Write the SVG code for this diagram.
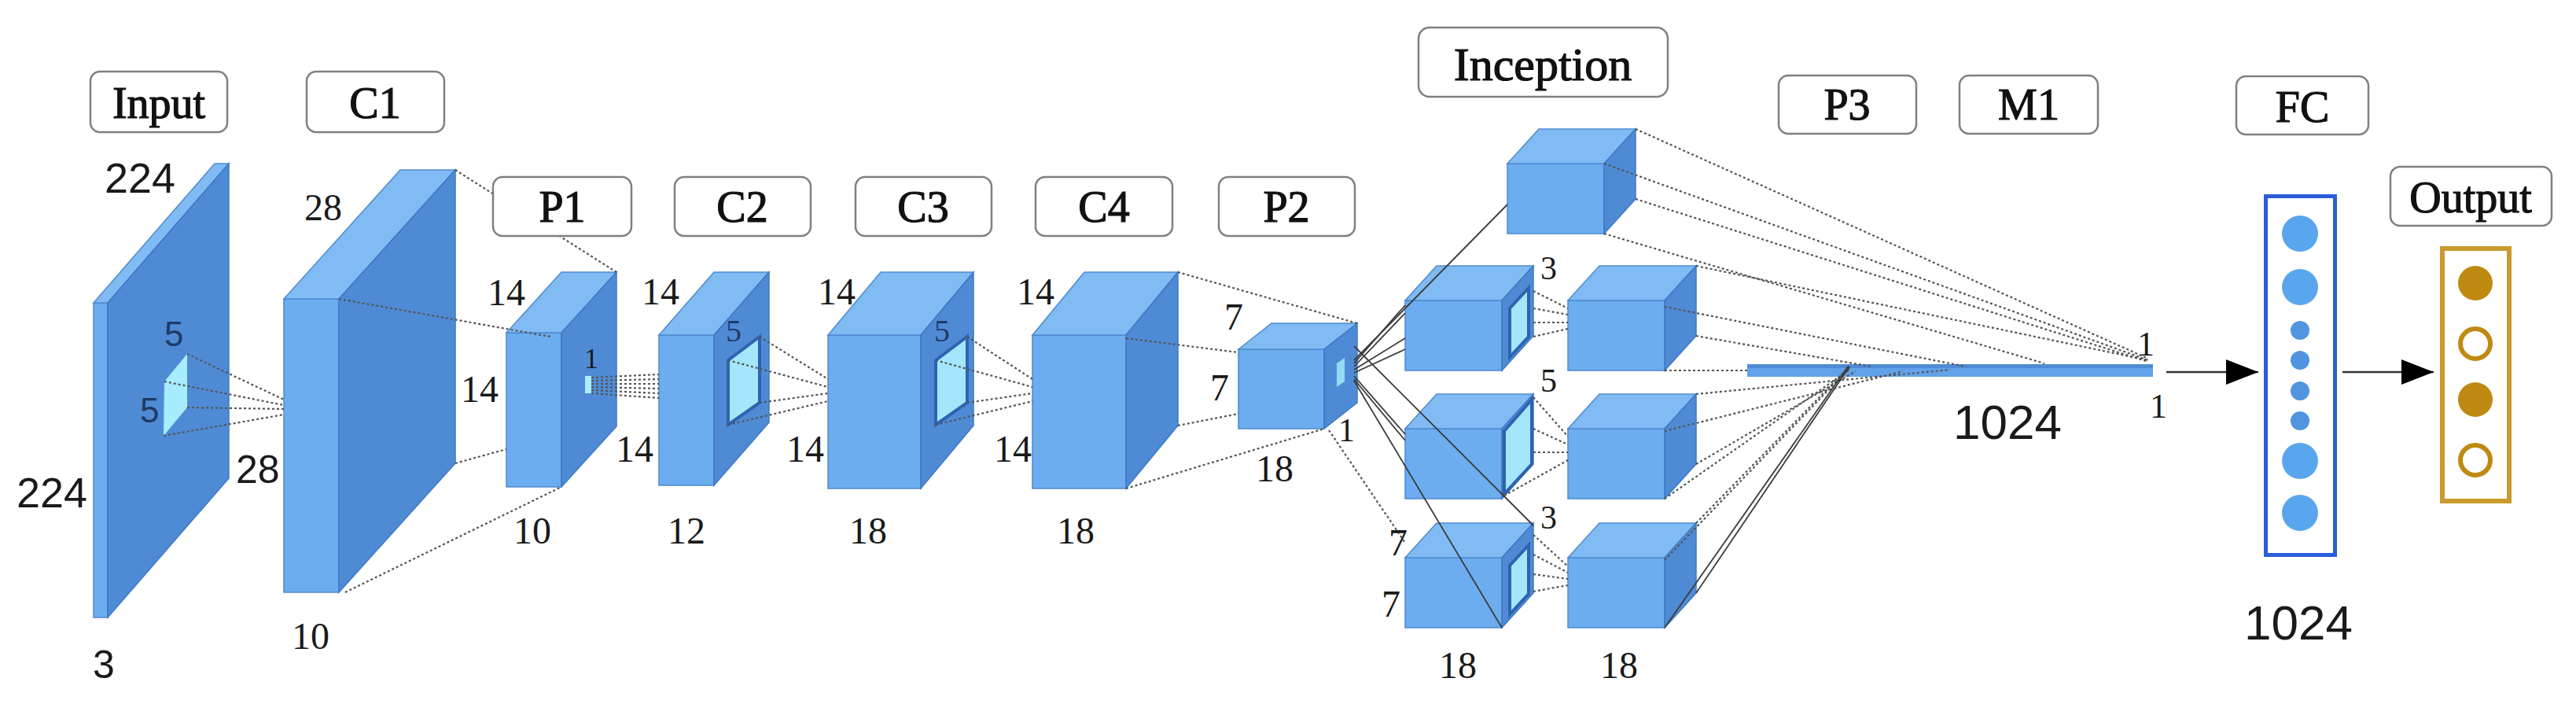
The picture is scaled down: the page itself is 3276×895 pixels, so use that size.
<svg xmlns="http://www.w3.org/2000/svg" width="3276" height="895" viewBox="0 0 3276 895">
<defs>
<style>
.lb{fill:#fff;stroke:#808080;stroke-width:2.5}
.lt{font-family:"Liberation Serif",serif;font-size:56px;fill:#111;stroke:#111;stroke-width:1.2;text-anchor:middle}
.fr{fill:#6cadf0;stroke:#4f8ad0;stroke-width:1.5}
.tp{fill:#80bbf4;stroke:#4f8ad0;stroke-width:1.5}
.sd{fill:#4f8bd5;stroke:#3f78c2;stroke-width:1.5}
.win{fill:#a4e6fc;stroke:#2f63b0;stroke-width:4}
.nm{font-family:"Liberation Serif",serif;font-size:48px;fill:#1a1a1a}
.ns{font-family:"Liberation Sans",sans-serif;font-size:54px;fill:#1a1a1a}
.nb{font-family:"Liberation Sans",sans-serif;font-size:44px;fill:#1f3a66}
.d{stroke:#555;stroke-width:2.2;stroke-dasharray:3 3;fill:none}
.s{stroke:#3c3c3c;stroke-width:1.8;fill:none}
.ar{stroke:#333;stroke-width:2.5;fill:none}
</style>
<marker id="ah" markerUnits="userSpaceOnUse" markerWidth="42" markerHeight="34" refX="41" refY="16" orient="auto">
<path d="M0,0 L41,16 L0,32 z" fill="#000"/>
</marker>
</defs>
<rect width="3276" height="895" fill="#fff"/>

<g id="input">
<rect class="fr" x="119" y="385" width="18" height="400"/>
<polygon class="tp" points="119,385 273,208 291,208 137,385"/>
<polygon class="sd" points="137,385 291,208 291,608 137,785"/>
<polygon points="209,485 238,450 238,518 208,554" fill="#a8ecff"/>
</g>
<g id="c1">
<rect class="fr" x="361" y="380" width="70" height="373"/>
<polygon class="tp" points="361,380 509,216 579,216 431,380"/>
<polygon class="sd" points="431,380 579,216 579,589 431,753"/>
</g>
<g id="p1">
<rect class="fr" x="644" y="423" width="70" height="196"/>
<polygon class="tp" points="644,423 714,346 784,346 714,423"/>
<polygon class="sd" points="714,423 784,346 784,542 714,619"/>
<rect x="744" y="478" width="8" height="22" fill="#a8ecff"/>
</g>
<g id="c2">
<rect class="fr" x="838" y="426" width="70" height="191"/>
<polygon class="tp" points="838,426 908,346 978,346 908,426"/>
<polygon class="sd" points="908,426 978,346 978,537 908,617"/>
<polygon class="win" points="926,458 966,428 966,512 926,540"/>
</g>
<g id="c3">
<rect class="fr" x="1053" y="426" width="118" height="195"/>
<polygon class="tp" points="1053,426 1120,346 1238,346 1171,426"/>
<polygon class="sd" points="1171,426 1238,346 1238,541 1171,621"/>
<polygon class="win" points="1190,458 1230,428 1230,512 1190,540"/>
</g>
<g id="c4">
<rect class="fr" x="1313" y="426" width="119" height="195"/>
<polygon class="tp" points="1313,426 1379,346 1498,346 1432,426"/>
<polygon class="sd" points="1432,426 1498,346 1498,541 1432,621"/>
</g>
<g id="p2">
<rect class="fr" x="1575" y="444" width="109" height="101"/>
<polygon class="tp" points="1575,444 1617,411 1726,411 1684,444"/>
<polygon class="sd" points="1684,444 1726,411 1726,512 1684,545"/>
<polygon points="1700,462 1710,455 1710,485 1700,492" fill="#a8ecff" opacity="0.8"/>
</g>
<g id="inception">
<rect class="fr" x="1917" y="208" width="123" height="89"/>
<polygon class="tp" points="1917,208 1957,164 2080,164 2040,208"/>
<polygon class="sd" points="2040,208 2080,164 2080,253 2040,297"/>

<rect class="fr" x="1787" y="382" width="123" height="89"/>
<polygon class="tp" points="1787,382 1827,338 1950,338 1910,382"/>
<polygon class="sd" points="1910,382 1950,338 1950,427 1910,471"/>
<polygon class="win" points="1920,392 1944,366 1944,428 1920,454"/>

<rect class="fr" x="1994" y="382" width="123" height="89"/>
<polygon class="tp" points="1994,382 2034,338 2157,338 2117,382"/>
<polygon class="sd" points="2117,382 2157,338 2157,427 2117,471"/>

<rect class="fr" x="1787" y="545" width="123" height="89"/>
<polygon class="tp" points="1787,545 1827,501 1950,501 1910,545"/>
<polygon class="sd" points="1910,545 1950,501 1950,590 1910,634"/>
<polygon class="win" points="1913,548 1948,508 1948,590 1913,628"/>

<rect class="fr" x="1994" y="545" width="123" height="89"/>
<polygon class="tp" points="1994,545 2034,501 2157,501 2117,545"/>
<polygon class="sd" points="2117,545 2157,501 2157,590 2117,634"/>

<rect class="fr" x="1787" y="709" width="123" height="89"/>
<polygon class="tp" points="1787,709 1827,665 1950,665 1910,709"/>
<polygon class="sd" points="1910,709 1950,665 1950,754 1910,798"/>
<polygon class="win" points="1920,719 1944,693 1944,755 1920,781"/>

<rect class="fr" x="1994" y="709" width="123" height="89"/>
<polygon class="tp" points="1994,709 2034,665 2157,665 2117,709"/>
<polygon class="sd" points="2117,709 2157,665 2157,754 2117,798"/>
</g>
<g id="p3m1">
<rect x="2222" y="463" width="516" height="16" fill="#62a2ea"/>
<rect x="2222" y="463" width="516" height="5" fill="#4e8ad6"/>
</g>
<g id="fc">
<rect x="2881.5" y="249.5" width="88" height="456" fill="#fff" stroke="#2a5ed8" stroke-width="5"/>
<g fill="#5aa6ee">
<circle cx="2925" cy="297" r="23"/>
<circle cx="2925" cy="365" r="23"/>
<circle cx="2925" cy="420" r="12" fill="#5194e0"/>
<circle cx="2925" cy="458" r="12" fill="#5194e0"/>
<circle cx="2925" cy="497" r="12" fill="#5194e0"/>
<circle cx="2925" cy="535" r="12" fill="#5194e0"/>
<circle cx="2925" cy="586" r="23"/>
<circle cx="2925" cy="652" r="23"/>
</g>
</g>
<g id="output">
<rect x="3106" y="316" width="85" height="321" fill="#fff" stroke="#c99a2c" stroke-width="6"/>
<circle cx="3148" cy="360" r="22" fill="#bf8a12"/>
<circle cx="3148" cy="437" r="19" fill="#fff" stroke="#bf8a12" stroke-width="6"/>
<circle cx="3148" cy="508" r="22" fill="#bf8a12"/>
<circle cx="3148" cy="585" r="19" fill="#fff" stroke="#bf8a12" stroke-width="6"/>
</g>

<g id="connectors">
<line class="d" x1="238" y1="450" x2="361" y2="508"/>
<line class="d" x1="209" y1="485" x2="361" y2="515"/>
<line class="d" x1="238" y1="518" x2="361" y2="520"/>
<line class="d" x1="208" y1="554" x2="361" y2="527"/>
<line class="d" x1="579" y1="216" x2="784" y2="346"/>
<line class="d" x1="431" y1="380" x2="700" y2="428"/>
<line class="d" x1="579" y1="589" x2="644" y2="571"/>
<line class="d" x1="439" y1="753" x2="714" y2="619"/>
<line class="d" x1="752" y1="480" x2="838" y2="476"/>
<line class="d" x1="752" y1="484" x2="838" y2="482"/>
<line class="d" x1="752" y1="488" x2="838" y2="488"/>
<line class="d" x1="752" y1="492" x2="838" y2="494"/>
<line class="d" x1="752" y1="496" x2="838" y2="500"/>
<line class="d" x1="752" y1="500" x2="838" y2="506"/>
<line class="d" x1="966" y1="428" x2="1053" y2="482"/>
<line class="d" x1="926" y1="458" x2="1053" y2="492"/>
<line class="d" x1="966" y1="512" x2="1053" y2="500"/>
<line class="d" x1="926" y1="540" x2="1053" y2="510"/>
<line class="d" x1="1230" y1="428" x2="1313" y2="482"/>
<line class="d" x1="1190" y1="458" x2="1313" y2="492"/>
<line class="d" x1="1230" y1="512" x2="1313" y2="500"/>
<line class="d" x1="1190" y1="540" x2="1313" y2="510"/>
<line class="d" x1="1498" y1="346" x2="1726" y2="411"/>
<line class="d" x1="1432" y1="430" x2="1575" y2="448"/>
<line class="d" x1="1498" y1="541" x2="1575" y2="526"/>
<line class="d" x1="1432" y1="621" x2="1684" y2="545"/>
<line class="s" x1="1722" y1="458" x2="1917" y2="260"/>
<line class="s" x1="1722" y1="462" x2="1787" y2="388"/>
<line class="s" x1="1722" y1="466" x2="1787" y2="398"/>
<line class="s" x1="1722" y1="470" x2="1787" y2="430"/>
<line class="s" x1="1722" y1="474" x2="1787" y2="444"/>
<line class="s" x1="1722" y1="478" x2="1787" y2="552"/>
<line class="s" x1="1722" y1="482" x2="1787" y2="560"/>
<line class="s" x1="1722" y1="484" x2="1910" y2="798"/>
<line class="s" x1="1722" y1="440" x2="1950" y2="668"/>
<line class="d" x1="1690" y1="547" x2="1787" y2="690"/>
<line class="d" x1="1950" y1="370" x2="1994" y2="392"/>
<line class="d" x1="1950" y1="392" x2="1994" y2="400"/>
<line class="d" x1="1950" y1="410" x2="1994" y2="410"/>
<line class="d" x1="1950" y1="428" x2="1994" y2="418"/>
<line class="d" x1="1950" y1="505" x2="1994" y2="555"/>
<line class="d" x1="1950" y1="545" x2="1994" y2="565"/>
<line class="d" x1="1950" y1="575" x2="1994" y2="575"/>
<line class="d" x1="1913" y1="630" x2="1994" y2="585"/>
<line class="d" x1="1950" y1="680" x2="1994" y2="720"/>
<line class="d" x1="1950" y1="705" x2="1994" y2="728"/>
<line class="d" x1="1950" y1="730" x2="1994" y2="736"/>
<line class="d" x1="1950" y1="752" x2="1994" y2="744"/>
<line class="d" x1="2080" y1="164" x2="2732" y2="456"/>
<line class="d" x1="2040" y1="208" x2="2732" y2="458"/>
<line class="d" x1="2080" y1="253" x2="2732" y2="460"/>
<line class="d" x1="2040" y1="297" x2="2600" y2="462"/>
<line class="d" x1="2157" y1="338" x2="2732" y2="458"/>
<line class="d" x1="2117" y1="390" x2="2500" y2="466"/>
<line class="d" x1="2157" y1="427" x2="2380" y2="466"/>
<line class="d" x1="2117" y1="471" x2="2222" y2="471"/>
<line class="d" x1="2157" y1="501" x2="2480" y2="470"/>
<line class="d" x1="2117" y1="548" x2="2420" y2="472"/>
<line class="d" x1="2157" y1="590" x2="2360" y2="472"/>
<line class="d" x1="2117" y1="634" x2="2352" y2="470"/>
<line class="d" x1="2157" y1="665" x2="2352" y2="466"/>
<line class="d" x1="2117" y1="712" x2="2352" y2="468"/>
<line class="s" x1="2157" y1="754" x2="2352" y2="466"/>
<line class="s" x1="2117" y1="798" x2="2350" y2="466"/>
<line class="ar" x1="2755" y1="473" x2="2872" y2="473" marker-end="url(#ah)"/>
<line class="ar" x1="2979" y1="473" x2="3095" y2="473" marker-end="url(#ah)"/>
</g>

<g id="labels">
<rect class="lb" x="115" y="91" width="174" height="77" rx="12"/>
<text class="lt" x="202" y="150">Input</text>
<rect class="lb" x="390" y="91" width="175" height="77" rx="12"/>
<text class="lt" x="477" y="150">C1</text>
<rect class="lb" x="627" y="225" width="176" height="75" rx="12"/>
<text class="lt" x="715" y="282">P1</text>
<rect class="lb" x="858" y="225" width="173" height="75" rx="12"/>
<text class="lt" x="944" y="282">C2</text>
<rect class="lb" x="1088" y="225" width="173" height="75" rx="12"/>
<text class="lt" x="1174" y="282">C3</text>
<rect class="lb" x="1317" y="225" width="174" height="75" rx="12"/>
<text class="lt" x="1404" y="282">C4</text>
<rect class="lb" x="1550" y="225" width="173" height="75" rx="12"/>
<text class="lt" x="1636" y="282">P2</text>
<rect class="lb" x="1804" y="35" width="317" height="88" rx="14"/>
<text class="lt" x="1962" y="102" style="font-size:60px">Inception</text>
<rect class="lb" x="2262" y="96" width="175" height="74" rx="12"/>
<text class="lt" x="2349" y="152">P3</text>
<rect class="lb" x="2492" y="96" width="176" height="74" rx="12"/>
<text class="lt" x="2580" y="152">M1</text>
<rect class="lb" x="2844" y="97" width="168" height="74" rx="12"/>
<text class="lt" x="2928" y="155">FC</text>
<rect class="lb" x="3040" y="212" width="205" height="75" rx="12"/>
<text class="lt" x="3142" y="270">Output</text>
</g>

<g id="dims">
<text class="ns" x="133" y="245">224</text>
<text class="ns" x="21" y="645">224</text>
<text class="nb" x="209" y="440">5</text>
<text class="nb" x="178" y="537">5</text>
<text class="ns" x="300" y="614" style="font-size:50px">28</text>
<text class="ns" x="118" y="862" style="font-size:50px">3</text>
<text class="nm" x="387" y="280">28</text>
<text class="nm" x="586" y="511">14</text>
<text class="nm" x="371" y="825">10</text>
<text class="nm" x="620" y="388">14</text>
<text class="nm" x="743" y="468" style="font-size:36px">1</text>
<text class="nm" x="783" y="587">14</text>
<text class="nm" x="653" y="691">10</text>
<text class="nm" x="816" y="387">14</text>
<text class="nm" x="923" y="434" style="font-size:40px;fill:#1f3a66">5</text>
<text class="nm" x="1000" y="587">14</text>
<text class="nm" x="849" y="691">12</text>
<text class="nm" x="1040" y="387">14</text>
<text class="nm" x="1188" y="434" style="font-size:40px;fill:#1f3a66">5</text>
<text class="nm" x="1264" y="587">14</text>
<text class="nm" x="1080" y="691">18</text>
<text class="nm" x="1293" y="387">14</text>
<text class="nm" x="1344" y="691">18</text>
<text class="nm" x="1557" y="419">7</text>
<text class="nm" x="1539" y="509">7</text>
<text class="nm" x="1702" y="561" style="font-size:42px">1</text>
<text class="nm" x="1597" y="612">18</text>
<text class="nm" x="1959" y="355" style="font-size:42px">3</text>
<text class="nm" x="1959" y="498" style="font-size:42px">5</text>
<text class="nm" x="1959" y="672" style="font-size:42px">3</text>
<text class="nm" x="1766" y="706">7</text>
<text class="nm" x="1757" y="784">7</text>
<text class="nm" x="1830" y="862">18</text>
<text class="nm" x="2035" y="862">18</text>
<text class="ns" x="2484" y="558" style="font-size:62px">1024</text>
<text class="nm" x="2718" y="452" style="font-size:44px">1</text>
<text class="nm" x="2734" y="531" style="font-size:44px">1</text>
<text class="ns" x="2854" y="813" style="font-size:62px">1024</text>
</g>
</svg>
